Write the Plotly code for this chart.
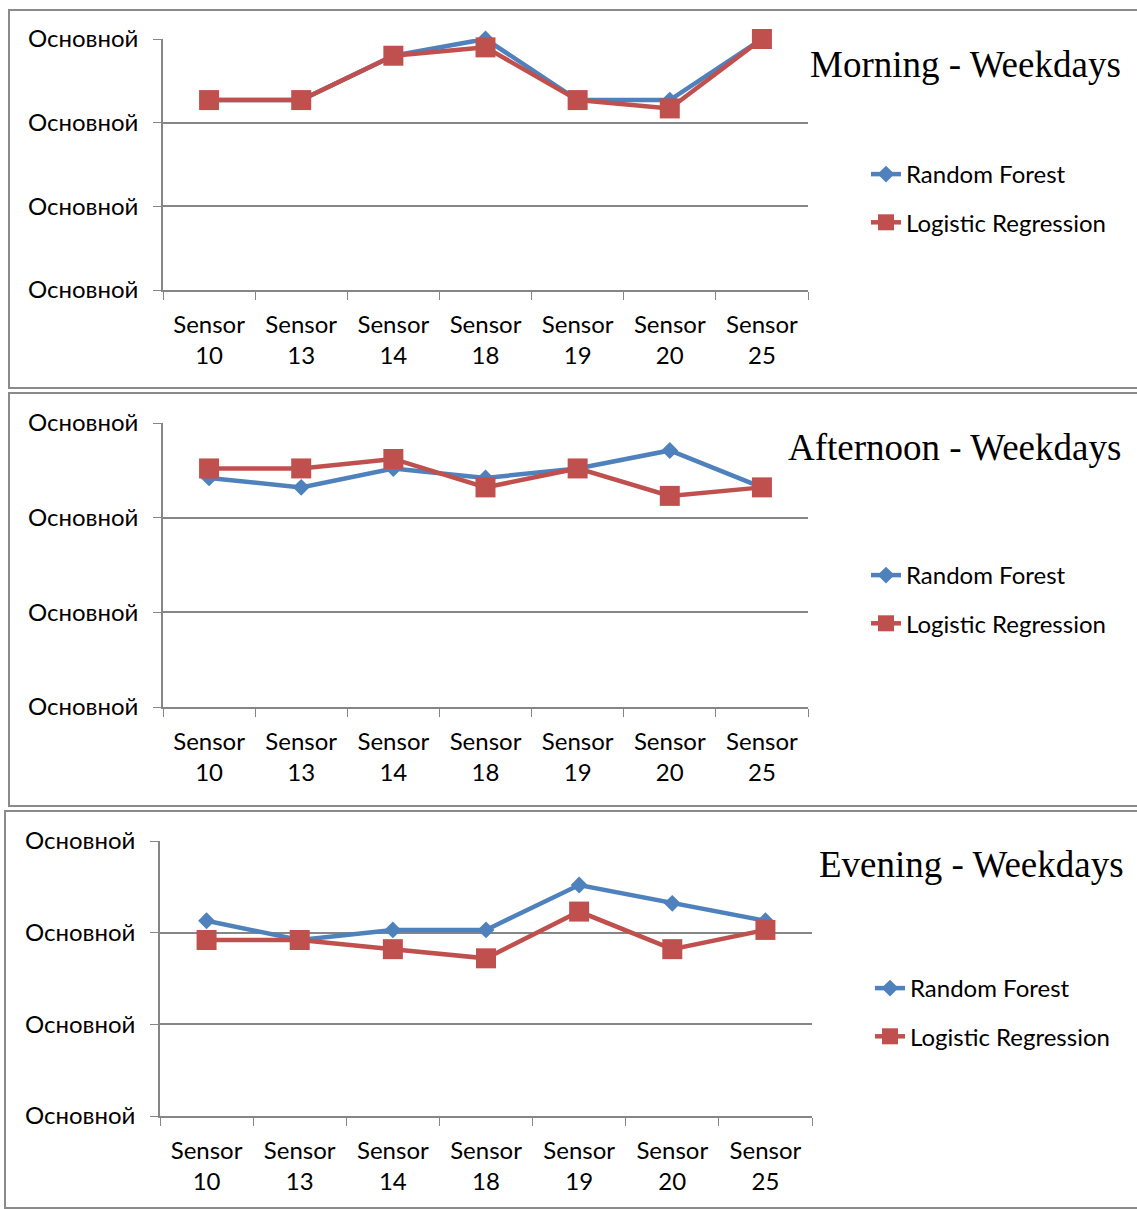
import plotly.graph_objects as go

W, H = 1137, 1209

sensors = ["Sensor<br>10", "Sensor<br>13", "Sensor<br>14", "Sensor<br>18",
           "Sensor<br>19", "Sensor<br>20", "Sensor<br>25"]

# accuracy (%) per sensor
morning_rf = [92.7, 92.7, 98.0, 100.0, 92.7, 92.7, 100.0]
morning_lr = [92.7, 92.7, 98.0, 99.0, 92.7, 91.7, 100.0]
afternoon_rf = [94.2, 93.2, 95.2, 94.2, 95.2, 97.1, 93.2]
afternoon_lr = [95.2, 95.2, 96.2, 93.2, 95.2, 92.3, 93.2]
evening_rf = [91.3, 89.2, 90.3, 90.3, 95.2, 93.2, 91.3]
evening_lr = [89.2, 89.2, 88.2, 87.2, 92.3, 88.2, 90.3]

titles = ["Morning - Weekdays", "Afternoon - Weekdays", "Evening - Weekdays"]
y_ticks = [70, 80, 90, 100]
y_tick_text = ["Основной"] * 4

BLUE = "#4F81BD"
RED = "#C0504D"
GRID = "#868686"
FONT = "Lato"


def px_x(x):
    return x / W


def px_y(y):
    return 1 - y / H


# plot areas in pixels: (left, top, right, bottom)
areas = [(163, 39, 808, 290), (163, 423, 808, 707), (160, 841, 812, 1116)]
frames = [(9, 10, 1150, 388), (9, 393, 1150, 806), (5, 811, 1150, 1208)]
title_pos = [(1123, 64), (1123, 447), (1126, 864)]
legend_pos = [(866, 152), (866, 553), (870, 966)]

data = [(morning_rf, morning_lr), (afternoon_rf, afternoon_lr), (evening_rf, evening_lr)]

fig = go.Figure()
layout = dict(
    width=W, height=H, margin=dict(l=0, r=0, t=0, b=0),
    paper_bgcolor="white", plot_bgcolor="white",
    font=dict(family=FONT, size=24, color="black"),
    shapes=[], annotations=[],
)

for i, ((rf, lr), (l, t, r, b)) in enumerate(zip(data, areas)):
    n = "" if i == 0 else str(i + 1)
    xa, ya = "x" + n, "y" + n
    leg = "legend" + n
    fig.add_trace(go.Scatter(
        x=sensors, y=rf, xaxis=xa, yaxis=ya, name="Random Forest",
        mode="lines+markers", legend=leg, legendgroup="rf" + n,
        line=dict(color=BLUE, width=4.5), cliponaxis=False,
        marker=dict(symbol="diamond", size=13, color=BLUE),
    ))
    fig.add_trace(go.Scatter(
        x=sensors, y=lr, xaxis=xa, yaxis=ya, name="Logistic Regression",
        mode="lines+markers", legend=leg, legendgroup="lr" + n,
        line=dict(color=RED, width=4.5), cliponaxis=False,
        marker=dict(symbol="square", size=20, color=RED),
    ))
    layout["xaxis" + n] = dict(
        domain=[px_x(l), px_x(r)], anchor=ya, type="category",
        range=[-0.5, 6.5], tickson="boundaries", ticks="outside",
        ticklen=8, tickcolor=GRID, showline=True, linecolor=GRID,
        linewidth=1.5, showgrid=False, tickfont=dict(size=24),
        ticklabelstandoff=12, automargin=False,
    )
    layout["yaxis" + n] = dict(
        domain=[px_y(b), px_y(t)], anchor=xa, range=[70, 100],
        tickvals=y_ticks, ticktext=y_tick_text, ticks="outside",
        ticklen=8, tickcolor=GRID, showline=True, linecolor=GRID,
        linewidth=1.5, showgrid=True, gridcolor=GRID, gridwidth=1.5,
        zeroline=False, tickfont=dict(size=24), ticklabelstandoff=10,
        automargin=False,
    )
    lx, ly = legend_pos[i]
    layout[leg] = dict(
        x=px_x(lx), y=px_y(ly), xanchor="left", yanchor="top",
        font=dict(size=24, family=FONT), bgcolor="rgba(0,0,0,0)",
        traceorder="grouped", tracegroupgap=14,
    )
    fx0, fy0, fx1, fy1 = frames[i]
    layout["shapes"].append(dict(
        type="rect", xref="paper", yref="paper",
        x0=px_x(fx0), x1=px_x(fx1), y0=px_y(fy1), y1=px_y(fy0),
        line=dict(color="#8a8a8a", width=2), layer="below",
    ))
    tx, ty = title_pos[i]
    layout["annotations"].append(dict(
        text=titles[i], xref="paper", yref="paper",
        x=px_x(tx), y=px_y(ty), xanchor="right", yanchor="middle",
        showarrow=False, font=dict(family="Liberation Serif", size=37, color="black"),
    ))

fig.update_layout(**layout)
fig.write_html("out.html")
